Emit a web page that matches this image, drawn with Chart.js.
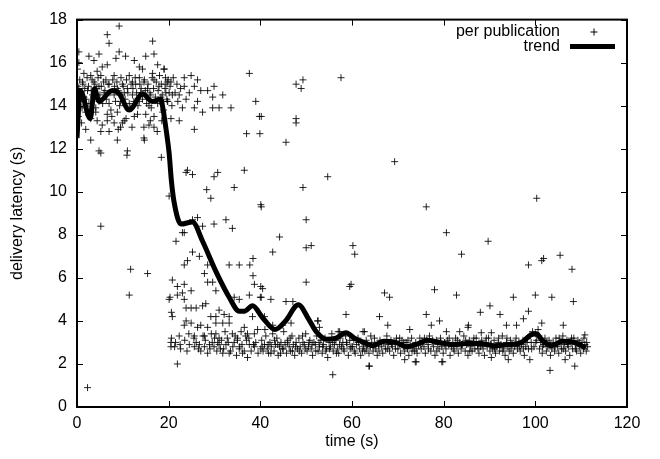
<!DOCTYPE html>
<html>
<head>
<meta charset="utf-8">
<script src="https://cdn.jsdelivr.net/npm/chart.js@4/dist/chart.umd.min.js"></script>
<style>
html,body{margin:0;padding:0;background:#fff;}
#wrap{width:660px;height:459px;position:relative;}
</style>
</head>
<body>
<div id="wrap"><canvas id="c" width="660" height="459"></canvas></div>
<script>
// ---- data (time s, latency s) ----
const xTicks = [0, 20, 40, 60, 80, 100, 120];
const yTicks = [0, 2, 4, 6, 8, 10, 12, 14, 16, 18];
const seriesNames = ['per publication', 'trend'];

const pubEarly = [
[9.2,17.7],[6.6,17.3],[7.0,16.9],[16.5,17.0],[0.4,16.5],[2.6,16.3],[4.8,16.4],[9.2,16.5],[8.5,16.2],[10.6,16.3],
[15.0,16.3],[16.8,16.4],[0.4,16.0],[3.7,16.1],[6.6,15.9],[5.5,15.8],[12.5,16.1],[13.6,15.8],[14.3,15.7],[17.6,15.9],
[19.0,15.7],[0.1,15.7],[1.5,15.5],[3.0,15.4],[4.4,15.6],[5.2,15.4],[8.1,15.4],[11.4,15.4],[13.6,15.3],[16.5,15.5],
[18.0,15.4],[1.2,15.1],[3.7,15.1],[6.3,15.2],[9.9,15.0],[12.1,15.1],[14.6,15.1],[16.8,15.2],[19.7,15.1],[0.4,14.8],
[2.3,14.7],[4.8,14.9],[7.0,15.0],[8.8,14.8],[11.0,14.8],[12.8,15.0],[15.4,14.8],[17.9,14.9],[19.4,14.6],[0.1,14.5],
[1.5,14.4],[3.4,14.5],[5.9,14.6],[8.1,14.5],[10.3,14.6],[12.1,14.5],[13.9,14.6],[16.1,14.5],[18.3,14.4],[0.8,14.2],
[2.6,14.1],[4.8,14.2],[7.0,14.1],[9.5,14.2],[11.4,14.1],[13.6,14.2],[15.7,14.0],[17.6,14.1],[19.7,14.2],[1.9,13.7],
[4.1,13.7],[6.6,13.6],[8.8,13.7],[10.3,13.3],[12.5,13.5],[15.0,13.6],[16.8,13.5],[18.7,13.7],[4.4,13.3],[6.6,13.3],
[8.1,13.2],[9.5,13.0],[14.6,13.0],[15.7,13.1],[16.8,13.0],[5.2,12.8],[7.0,12.8],[9.9,13.2],[3.0,12.4],[8.8,12.4],
[14.6,12.5],[14.7,12.4],[4.8,11.9],[11.0,11.9],[5.2,11.8],[10.9,11.7],[18.4,11.6],[5.2,8.4],[11.7,6.4],[15.4,6.2],
[11.4,5.2],[2.3,0.9],
[0.2,14.9],[0.6,15.2],[0.9,14.6],[1.1,13.9],[1.3,15.0],[1.7,14.8],[2.0,14.3],[2.2,15.3],[2.5,14.9],[2.8,13.8],
[3.1,14.7],[3.3,15.2],[3.6,14.4],[3.9,15.0],[4.1,13.9],[4.3,14.8],[4.6,15.3],[5.0,14.5],[5.3,14.9],[5.6,14.1],
[5.8,15.1],[6.1,14.7],[6.4,14.3],[6.8,15.0],[7.2,14.6],[7.4,13.8],[7.8,15.2],[8.2,14.9],[8.4,14.2],[8.7,15.1],
[9.0,14.7],[9.3,14.0],[9.6,15.3],[9.8,14.5],[10.1,14.9],[10.5,14.3],[10.8,15.2],[11.1,14.6],[11.6,13.9],[11.8,15.0],
[12.2,14.8],[12.4,14.2],[12.7,15.3],[13.0,14.6],[13.3,14.0],[13.7,15.0],[14.0,14.8],[14.3,14.3],[14.7,15.2],[14.9,14.7],
[15.2,14.1],[15.5,15.0],[15.9,14.6],[16.2,13.9],[16.4,15.3],[16.7,14.8],[17.1,14.4],[17.3,15.1],[17.7,14.7],[18.1,14.2],
[18.4,15.0],[18.6,14.5],[18.9,13.8],[19.2,14.8],[19.6,14.3],[19.9,15.2],[0.3,13.5],[1.0,13.2],[1.9,12.9],[3.0,13.4],
[5.5,13.1],[7.6,13.5],[9.0,12.9],[10.7,13.4],[12.0,13.0],[13.2,13.6],[16.0,13.3],[17.5,12.8],[18.5,13.3]
];

const pubTransition = [
[19.0,15.7],[19.3,15.3],[19.4,15.0],[20.5,15.1],[20.1,14.6],[19.8,14.2],[20.8,14.5],[22.3,14.5],[23.4,15.3],[23.4,14.9],
[24.9,15.4],[24.5,14.6],[23.8,14.3],[25.6,14.9],[26.3,15.2],[27.0,14.7],[26.3,14.2],[25.6,13.9],[27.4,13.7],[28.5,14.7],
[29.9,14.9],[29.6,14.4],[29.6,13.9],[31.0,13.9],[31.8,14.5],[33.6,13.9],[20.5,13.4],[22.3,13.3],[25.6,12.9],[37.6,15.5],
[39.0,14.2],[39.8,13.5],[37.0,12.7],[39.9,12.7],[20.3,14.9],[20.7,14.0],[21.0,15.3],[21.4,14.6],[21.8,15.0],[22.0,14.2],
[22.6,14.8],[23.0,13.9],
[24.1,11.0],[23.8,10.9],[25.2,10.8],[30.7,10.9],[29.9,10.7],[36.5,11.0],[28.3,10.1],[34.3,10.2],[29.2,9.7],[20.1,9.8],
[40.1,9.4],[26.3,8.8],[25.2,8.7],[29.9,8.5],[32.5,8.7],[33.9,8.3],[27.4,8.4],[23.0,8.1],[23.4,8.1],[21.6,7.7],
[25.2,7.2],[26.7,7.0],[24.1,6.8],[23.4,6.6],[38.4,6.9],[37.7,6.6],[33.2,6.6],[35.4,6.6],[28.5,6.6],[27.8,6.2],
[28.5,5.8],[29.6,5.8],[30.3,5.4],[20.8,5.9],[21.9,5.6],[23.4,5.7],[24.9,5.4],[23.0,5.3],[21.9,5.2],[20.1,5.0],
[23.4,5.0],[38.4,6.1],[38.7,5.7],[37.6,5.2],[40.1,5.6],[34.3,5.1],[35.4,5.0],[40.0,5.1],[20.3,5.1],[20.6,4.4],
[23.8,4.6],[24.9,4.6],[26.0,4.6],[27.4,4.7],[28.1,4.8],[29.2,4.2],[30.3,4.2],[31.0,4.5],[32.1,4.3],[33.2,4.2],
[20.8,4.2],[23.8,4.0],[23.4,3.8],[24.9,3.9],[26.3,3.7],[27.0,3.8],[28.5,3.7],[30.3,3.9],[31.8,3.9],[33.2,3.9],
[22.3,3.3],[24.4,3.4],[25.6,3.3],[27.8,3.3],[30.3,3.4],[31.0,3.2],[32.8,3.2],[33.9,3.4],[35.0,3.2],[36.5,3.7],
[38.3,4.2],[39.4,3.6],[37.2,3.4],[38.7,3.4],[20.6,3.2],[20.5,3.0],
[20.5,2.8],[21.3,2.8],[22.6,2.7],[25.6,2.8],[26.7,2.9],[27.8,2.8],[28.9,2.9],[29.9,2.8],[30.7,3.0],[31.8,2.5],
[33.2,2.5],[34.3,3.0],[35.4,2.7],[36.1,2.5],[37.2,2.3],[37.6,2.9],[38.7,2.8],[40.1,2.7],[21.9,2.0],
[26.0,3.0],[27.0,2.6],[28.0,3.1],[29.0,2.7],[30.0,3.2],[31.0,2.9],[32.0,2.7],[33.0,3.0],[34.0,2.8],[35.0,3.1],
[36.0,2.9],[37.0,3.1],[38.0,2.6],[39.0,3.0],[24.5,2.9],[25.5,3.2],[26.5,2.7],[27.5,3.3],[28.5,2.5],[29.5,3.0],
[30.5,2.6],[31.5,3.1],[32.5,2.9],[33.5,2.6],[34.5,3.3],[35.5,2.8],[36.5,2.6],[37.5,3.2],[38.5,2.9],[39.5,2.5],
[21.5,3.0],[22.5,2.9],[23.5,3.1],[24.0,2.6],[32.3,3.5],[34.8,2.4],[36.8,3.3],[35.8,3.5],[29.3,3.4],[31.3,2.7]
];

const pubMid = [
[40.2,13.5],[45.6,12.3],[47.8,15.0],[49.3,15.2],[48.9,14.8],[47.8,13.4],[47.8,13.2],[57.6,15.3],[54.7,10.7],[49.3,10.2],
[40.2,9.3],[50.0,8.7],[44.2,7.9],[42.7,7.2],[50.0,7.4],[51.1,7.5],[60.2,7.5],[60.6,7.1],[50.0,5.8],[59.5,5.6],
[59.8,5.7],[40.5,5.5],[40.2,5.1],[42.3,5.0],[45.6,4.9],[47.1,4.9],[40.9,4.2],[42.7,3.8],[44.9,3.8],[46.7,3.9],
[52.6,4.0],[52.9,3.7],[58.7,4.3],[57.0,3.5],[55.8,1.5],[57.3,3.5],[52.5,4.0],
[40.3,3.1],[40.6,2.6],[40.9,2.9],[41.2,3.3],[41.5,2.7],[41.8,2.5],[42.1,3.0],[42.4,2.8],[42.7,3.4],[43.0,2.6],
[43.3,2.9],[43.6,3.2],[43.9,2.4],[44.2,2.8],[44.5,3.0],[44.8,2.7],[45.1,3.5],[45.4,2.9],[45.7,2.5],[46.0,3.1],
[46.3,2.8],[46.6,2.6],[46.9,3.3],[47.2,2.9],[47.5,2.4],[47.8,3.0],[48.1,2.7],[48.4,3.2],[48.7,2.8],[49.0,2.5],
[49.3,3.0],[49.6,2.9],[49.9,3.4],[50.2,2.6],[50.5,2.8],[50.8,3.1],[51.1,2.7],[51.4,2.4],[51.7,3.0],[52.0,2.9],
[52.3,3.3],[52.6,2.6],[52.9,2.8],[53.2,3.1],[53.5,2.5],[53.8,2.9],[54.1,3.2],[54.4,2.7],[54.7,2.3],[55.0,3.0],
[55.3,2.8],[55.6,3.4],[55.9,2.6],[56.2,2.9],[56.5,3.1],[56.8,2.7],[57.1,2.5],[57.4,3.2],[57.7,2.8],[58.0,3.0],
[58.3,2.6],[58.6,3.3],[58.9,2.9],[59.2,2.4],[59.5,3.1],[59.8,2.8],
[40.4,2.8],[41.0,3.6],[41.7,2.9],[42.3,2.5],[43.1,3.1],[43.8,2.9],[44.4,2.5],[45.0,2.7],[45.9,3.0],[46.5,3.2],
[47.0,2.6],[47.7,2.8],[48.5,2.6],[49.2,3.3],[49.8,2.7],[50.6,3.0],[51.3,2.9],[52.1,2.6],[52.8,3.0],[53.6,2.8],
[54.3,2.6],[55.1,2.7],[55.8,3.0],[56.6,2.5],[57.3,2.9],[58.1,2.7],[58.8,3.0],[59.6,2.7]
];

const pubLate = [
[69.3,11.4],[76.2,9.3],[80.6,8.1],[83.9,7.1],[67.1,5.3],[68.2,5.1],[78.0,5.45],[82.8,5.2],[66.0,4.2],[76.2,4.3],
[79.1,4.0],[67.8,3.8],[77.3,3.8],[85.4,3.8],[62.7,3.5],[72.6,3.6],[80.6,3.5],[83.5,3.5],[63.8,1.9],[74.0,2.1],
[79.8,2.1],[71.5,2.2],[100.3,9.7],[89.7,7.7],[105.4,7.05],[101.8,6.9],[101.4,6.8],[98.5,6.6],[108.0,6.4],[100.0,5.2],
[95.2,5.1],[103.6,5.1],[108.3,4.9],[90.1,4.7],[88.0,4.4],[92.3,4.3],[98.5,4.45],[97.4,4.1],[93.7,3.8],[95.9,3.8],
[101.4,3.9],[106.1,3.8],[103.2,1.7],[90.4,2.3],[94.1,2.2],[98.8,2.2],[106.5,2.2],[108.6,1.9],[62.4,3.5],[88.2,3.45],
[90.4,3.45],[110.8,3.35],[85.3,3.7],[73.8,2.1],[79.6,2.1],[63.7,1.9],
[60.1,2.8],[60.4,3.1],[60.7,2.5],[61.0,2.9],[61.3,3.2],[61.6,2.7],[61.9,2.4],[62.2,3.0],[62.5,2.8],[62.8,2.6],
[63.1,3.1],[63.4,2.9],[63.7,2.5],[64.0,2.8],[64.3,3.0],[64.6,2.6],[64.9,3.2],[65.2,2.7],[65.5,2.4],[65.8,2.9],
[66.1,3.1],[66.4,2.8],[66.7,2.5],[67.0,3.0],[67.3,2.7],[67.6,3.3],[67.9,2.9],[68.2,2.6],[68.5,3.1],[68.8,2.8],
[69.1,2.4],[69.4,3.0],[69.7,3.2],[70.0,2.7],[70.3,2.9],[70.6,2.5],[70.9,3.1],[71.2,2.8],[71.5,2.6],[71.8,3.0],
[72.1,2.7],[72.4,2.4],[72.7,2.9],[73.0,3.2],[73.3,2.8],[73.6,2.6],[73.9,3.0],[74.2,2.5],[74.5,2.9],[74.8,3.2],
[75.1,2.7],[75.4,3.0],[75.7,2.8],[76.0,2.5],[76.3,3.1],[76.6,2.9],[76.9,3.3],[77.2,2.6],[77.5,3.0],[77.8,2.8],
[78.1,2.4],[78.4,3.1],[78.7,2.9],[79.0,2.7],[79.3,3.2],[79.6,2.8],[79.9,2.5],[80.2,3.0],[80.5,2.7],[80.8,3.1],
[81.1,2.9],[81.4,2.4],[81.7,2.8],[82.0,3.0],[82.3,2.6],[82.6,3.2],[82.9,2.8],[83.2,2.5],[83.5,3.0],[83.8,2.7],
[84.1,2.9],[84.4,3.3],[84.7,2.6],[85.0,2.9],[85.3,2.4],[85.6,3.1],[85.9,2.8],[86.2,2.6],[86.5,3.0],[86.8,2.7],
[87.1,3.2],[87.4,2.9],[87.7,2.5],[88.0,2.8],[88.3,3.1],[88.6,2.7],[88.9,2.4],[89.2,3.0],[89.5,2.8],[89.8,3.2],
[90.1,2.6],[90.4,2.9],[90.7,2.7],[91.0,3.1],[91.3,2.5],[91.6,2.8],[91.9,3.0],[92.2,2.6],[92.5,2.9],[92.8,3.3],
[93.1,2.7],[93.4,2.4],[93.7,3.0],[94.0,2.8],[94.3,2.6],[94.6,3.1],[94.9,2.9],[95.2,2.5],[95.5,2.8],[95.8,3.2],
[96.1,2.7],[96.4,3.0],[96.7,2.6],[97.0,2.9],[97.3,3.1],[97.6,2.4],[97.9,2.8],[98.2,3.0],[98.5,2.7],[98.8,3.3],
[99.1,3.0],[99.4,3.5],[99.7,2.8],[100.0,3.4],[100.3,3.1],[100.6,3.6],[100.9,2.7],[101.2,3.0],[101.5,2.5],[101.8,2.9],
[102.1,3.2],[102.4,2.6],[102.7,2.8],[103.0,3.1],[103.3,2.4],[103.6,2.7],[103.9,3.0],[104.2,2.6],[104.5,3.2],[104.8,2.8],
[105.1,2.5],[105.4,3.0],[105.7,2.7],[106.0,3.3],[106.3,2.9],[106.6,2.6],[106.9,3.1],[107.2,2.8],[107.5,2.4],[107.8,3.0],
[108.1,2.7],[108.4,3.2],[108.7,2.9],[109.0,2.6],[109.3,3.1],[109.6,2.8],[109.9,2.5],[110.2,3.0],[110.5,2.7],[110.8,2.9],
[111.1,2.6],[111.4,2.8],
[60.5,2.6],[61.4,3.0],[62.3,2.6],[63.2,2.7],[64.1,3.3],[65.0,2.9],[65.9,2.6],[66.8,3.0],[67.7,2.7],[68.6,2.9],
[69.5,2.7],[70.4,3.2],[71.3,3.0],[72.2,3.1],[73.1,2.6],[74.0,2.7],[74.9,2.9],[75.8,3.2],[76.7,2.7],[77.6,3.1],
[78.5,2.6],[79.4,3.0],[80.3,2.9],[81.2,3.2],[82.1,2.7],[83.0,3.1],[83.9,2.9],[84.8,3.1],[85.7,2.6],[86.6,3.2],
[87.5,2.7],[88.4,2.9],[89.3,3.2],[90.2,2.9],[91.1,2.7],[92.0,3.2],[92.9,2.6],[93.8,3.2],[94.7,2.7],[95.6,3.0],
[96.5,2.8],[97.4,2.7],[98.3,3.2],[99.2,2.7],[100.1,3.0],[100.8,3.3],[101.6,2.8],[102.5,3.0],[103.4,2.9],[104.3,2.8],
[105.2,3.2],[106.1,2.7],[107.0,2.9],[107.9,3.2],[108.8,2.7],[109.7,3.0],[110.6,3.2],[111.2,3.0]
];

const trendTime = [0,0.7,2.9,3.8,4.8,7.7,9.2,11.4,14.3,16.4,18.3,18.8,19.5,20.1,20.6,21.2,22.7,25.2,27.4,30.3,
  33.2,35.4,36.5,38.3,40.5,43.2,45.5,48.3,50.5,52.2,54.4,56.5,58.7,60.5,62.5,64.5,67,69.5,72,74.5,
  76.5,79,82,85,88,91,94,97,99,100.2,101.5,103.5,106,108.5,111];
const trendLatency = [12.5,14.7,13.4,14.8,14.2,14.7,14.55,13.8,14.55,14.2,14.3,13.8,12.8,11.8,10.5,9.5,8.5,8.6,7.7,6.3,
  5.1,4.45,4.45,4.7,4.15,3.6,4.0,4.75,4.1,3.5,3.15,3.2,3.45,3.2,3.0,2.85,3.05,3.0,2.8,2.95,
  3.1,3.0,2.9,2.95,2.95,2.85,2.9,3.0,3.35,3.4,3.1,2.85,3.05,3.0,2.75];

// ---- chart ----
const FONT = '"Liberation Sans", Arial, Helvetica, sans-serif';
const FS = 16;
const allPubs = [...pubEarly, ...pubTransition, ...pubMid, ...pubLate].map(p => ({x: p[0], y: p[1]}));
const trendData = trendTime.map((t, i) => ({x: t, y: trendLatency[i]}));

const gnuFrame = {
  id: 'gnuFrame',
  beforeDatasetsDraw(chart) {
    const {ctx, chartArea: a, scales: {x, y}} = chart;
    ctx.save();
    ctx.strokeStyle = '#000';
    ctx.lineWidth = 1;
    const tl = 6;
    ctx.beginPath();
    xTicks.forEach(v => {
      const px = Math.round(x.getPixelForValue(v)) + 0.5;
      ctx.moveTo(px, a.bottom); ctx.lineTo(px, a.bottom - tl);
      ctx.moveTo(px, a.top); ctx.lineTo(px, a.top + tl);
    });
    yTicks.forEach(v => {
      const py = Math.round(y.getPixelForValue(v)) + 0.5;
      ctx.moveTo(a.left, py); ctx.lineTo(a.left + tl, py);
      ctx.moveTo(a.right, py); ctx.lineTo(a.right - tl, py);
    });
    ctx.stroke();
    ctx.restore();
  },
  afterDatasetsDraw(chart) {
    const {ctx, chartArea: a} = chart;
    ctx.save();
    ctx.strokeStyle = '#000';
    ctx.lineWidth = 2;
    ctx.strokeRect(a.left, a.top, a.right - a.left, a.bottom - a.top);
    // key
    ctx.fillStyle = '#000';
    ctx.font = FS + 'px ' + FONT;
    ctx.textAlign = 'right';
    ctx.textBaseline = 'middle';
    ctx.fillText(seriesNames[0], 560, 32);
    ctx.fillText(seriesNames[1], 560, 47);
    ctx.lineWidth = 1;
    ctx.beginPath();
    ctx.moveTo(590.5, 32); ctx.lineTo(597.5, 32);
    ctx.moveTo(594, 28.5); ctx.lineTo(594, 35.5);
    ctx.stroke();
    ctx.lineWidth = 5;
    ctx.beginPath();
    ctx.moveTo(570, 46.5); ctx.lineTo(615, 46.5);
    ctx.stroke();
    ctx.restore();
  }
};

new Chart(document.getElementById('c'), {
  type: 'scatter',
  data: {
    datasets: [
      {
        label: seriesNames[1],
        data: trendData,
        showLine: true,
        borderColor: '#000',
        borderWidth: 5,
        pointRadius: 0,
        cubicInterpolationMode: 'monotone',
        borderJoinStyle: 'round',
        order: 0
      },
      {
        label: seriesNames[0],
        data: allPubs,
        showLine: false,
        pointStyle: 'cross',
        pointRadius: 3.5,
        pointBorderWidth: 1,
        borderColor: 'rgba(0,0,0,0.85)',
        backgroundColor: 'rgba(0,0,0,0.85)',
        order: 1
      }
    ]
  },
  options: {
    responsive: false,
    animation: false,
    events: [],
    layout: {padding: {left: 0, right: 33, top: 15, bottom: 0}},
    plugins: {legend: {display: false}, tooltip: {enabled: false}},
    scales: {
      x: {
        type: 'linear', min: 0, max: 120,
        afterBuildTicks: s => { s.ticks = xTicks.map(v => ({value: v})); },
        afterFit: s => { s.height = 52; },
        grid: {display: false, drawTicks: false},
        border: {display: false},
        ticks: {color: '#000', font: {family: FONT, size: FS}, padding: 7, maxRotation: 0},
        title: {display: true, text: 'time (s)', color: '#000', font: {family: FONT, size: FS}, padding: {top: 0, bottom: 8}}
      },
      y: {
        type: 'linear', min: 0, max: 18,
        afterBuildTicks: s => { s.ticks = yTicks.map(v => ({value: v})); },
        afterFit: s => { s.width = 77; },
        grid: {display: false, drawTicks: false},
        border: {display: false},
        ticks: {color: '#000', font: {family: FONT, size: FS}, padding: 10},
        title: {display: true, text: 'delivery latency (s)', color: '#000', font: {family: FONT, size: FS}, padding: {top: 8, bottom: 0}}
      }
    }
  },
  plugins: [gnuFrame]
});
</script>
</body>
</html>
